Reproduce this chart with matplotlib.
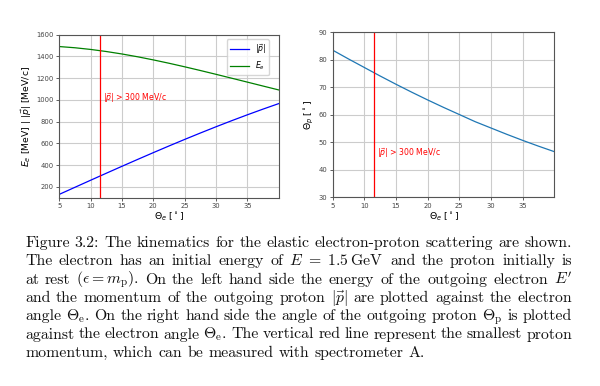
import matplotlib.pyplot as plt

# electron scattering angle [deg]
theta_e = [5, 7.5, 10, 12.5, 15, 17.5, 20, 22.5, 25, 27.5, 30, 32.5, 35, 37.5, 40]
# proton momentum |p| [MeV/c]
p_abs = [130.8, 195.9, 260.8, 325.2, 389.1, 452.3, 514.7, 576.1, 636.3,
         695.2, 752.7, 808.6, 862.8, 915.3, 965.9]
# outgoing electron energy [MeV]
E_e = [1490.9, 1479.8, 1464.4, 1445.2, 1422.5, 1396.7, 1368.1, 1337.3, 1304.6,
       1270.5, 1235.4, 1199.6, 1163.6, 1127.5, 1091.7]
# proton angle [deg]
theta_p = [83.5, 80.3, 77.2, 74.1, 71.1, 68.2, 65.4, 62.7, 60.1,
           57.5, 55.2, 52.9, 50.7, 48.6, 46.6]
p_cut_angle = 11.5
x_ticks = [5, 10, 15, 20, 25, 30, 35]

caption_lines = [
    ["Figure", "3.2:", "The", "kinematics", "for", "the", "elastic", "electron-proton",
     "scattering", "are", "shown."],
    ["The", "electron", "has", "an", "initial", "energy", "of", r"$E\ =\ 1.5\,\mathrm{GeV}$",
     "and", "the", "proton", "initially", "is"],
    ["at", "rest", r"$(\epsilon = m_\mathrm{p})$.", "On", "the", "left", "hand", "side", "the",
     "energy", "of", "the", "outgoing", "electron", r"$E'$"],
    ["and", "the", "momentum", "of", "the", "outgoing", "proton", r"$|\vec{p}|$", "are",
     "plotted", "against", "the", "electron"],
    ["angle", r"$\Theta_\mathrm{e}$.", "On", "the", "right", "hand", "side", "the", "angle",
     "of", "the", "outgoing", "proton", r"$\Theta_\mathrm{p}$", "is", "plotted"],
    ["against", "the", "electron", "angle", r"$\Theta_\mathrm{e}$.", "The", "vertical", "red",
     "line", "represent", "the", "smallest", "proton"],
    ["momentum,", "which", "can", "be", "measured", "with", "spectrometer", "A."],
]

W, H = 600, 386
fig = plt.figure(figsize=(W / 100, H / 100), dpi=100)
ax1 = fig.add_axes([59.3 / W, 1 - 197.7 / H, 219.4 / W, 163 / H])
ax2 = fig.add_axes([332.7 / W, 1 - 197.3 / H, 221.6 / W, 165 / H])

ax1.plot(theta_e, p_abs, color='b', lw=0.9, label=r'$|\vec{p}|$')
ax1.plot(theta_e, E_e, color='g', lw=0.9, label=r'$E_e$')
ax1.axvline(p_cut_angle, color='r', lw=0.9)
ax1.text(12, 1020, r'$|\vec{p}|$ > 300 MeV/c', color='r', fontsize=5.6, va='center')
ax1.set_xlim(5, 40)
ax1.set_ylim(100, 1600)
ax1.set_xlabel(r'$\Theta_e$ [$^\circ$]', fontsize=6.7, labelpad=1)
ax1.set_ylabel(r'$E_e$ [MeV] | $|\vec{p}|$ [MeV/c]', fontsize=6.7, labelpad=2)
ax1.legend(loc='upper right', fontsize=5.6, handlelength=2.4, borderaxespad=0,
           bbox_to_anchor=((269 - 59.3) / 219.4, 1 - (39 - 34.7) / 163))

ax2.plot(theta_e, theta_p, color='C0', lw=0.9)
ax2.axvline(p_cut_angle, color='r', lw=0.9)
ax2.text(12, 46, r'$|\vec{p}|$ > 300 MeV/c', color='r', fontsize=5.6, va='center')
ax2.set_xlim(5, 40)
ax2.set_ylim(30, 90)
ax2.set_xlabel(r'$\Theta_e$ [$^\circ$]', fontsize=6.7, labelpad=1)
ax2.set_ylabel(r'$\Theta_p$ [$^\circ$]', fontsize=6.7, labelpad=2)

for ax in (ax1, ax2):
    ax.set_xticks(x_ticks)
    ax.grid(True, color='#cccccc', lw=0.8)
    ax.tick_params(labelsize=4.9, length=2.5, width=0.6, pad=1.5, colors='#444444')
    for s in ax.spines.values():
        s.set_color('#555555')
        s.set_linewidth(0.8)

# caption, justified word by word
x0, x1 = 25, 572
y0, dy = 247, 18.3
fig.canvas.draw()
r = fig.canvas.get_renderer()

# font size chosen so the first line fits with normal word spacing
probe = [fig.text(0, 0, t, fontsize=10, family='cmr10', math_fontfamily='cm')
         for t in caption_lines[0]]
w10 = sum(t.get_window_extent(r).width for t in probe)
for t in probe:
    t.remove()
n_gaps = len(caption_lines[0]) - 1
fs = (x1 - x0) / (w10 / 10 + n_gaps * 0.333 * 100 / 72)
space = 0.333 * fs * 100 / 72

for i, tokens in enumerate(caption_lines):
    y = 1 - (y0 + i * dy) / H
    texts = [fig.text(0, y, t, fontsize=fs, family='cmr10', math_fontfamily='cm',
                      va='baseline', color='#111111') for t in tokens]
    widths = [t.get_window_extent(r).width for t in texts]
    if i == len(caption_lines) - 1:
        gap = space
    else:
        gap = (x1 - x0 - sum(widths)) / (len(tokens) - 1)
    x = x0
    for t, w in zip(texts, widths):
        t.set_x(x / W)
        x += w + gap

fig.savefig('out.png', dpi=100)
